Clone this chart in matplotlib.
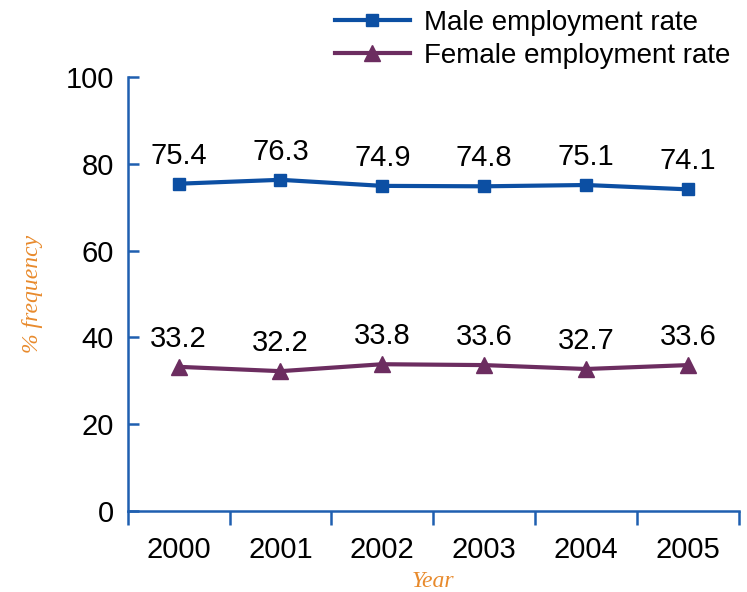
import matplotlib
matplotlib.use("Agg")
import matplotlib.pyplot as plt

plt.rcParams["font.family"] = ["Liberation Sans Narrow", "Liberation Sans", "DejaVu Sans"]

years = ["2000", "2001", "2002", "2003", "2004", "2005"]
male = [75.4, 76.3, 74.9, 74.8, 75.1, 74.1]
female = [33.2, 32.2, 33.8, 33.6, 32.7, 33.6]

male_col = "#0c4fa3"
female_col = "#6c2d60"
axis_col = "#1f5fb0"
label_col = "#e88a2c"
fs = 21

fig = plt.figure(figsize=(7.47, 5.92), dpi=100)
ax = fig.add_axes([0.171, 0.137, 0.818, 0.733])

x = list(range(len(years)))
ax.plot(x, male, color=male_col, lw=3, marker="s", ms=8, label="Male employment rate")
ax.plot(x, female, color=female_col, lw=3, marker="^", ms=11, label="Female employment rate")

for xi, v in zip(x, male):
    ax.annotate(f"{v}", (xi, v), xytext=(0, 10), textcoords="offset points",
                ha="center", va="bottom", fontsize=fs)
for xi, v in zip(x, female):
    ax.annotate(f"{v}", (xi, v), xytext=(0, 10), textcoords="offset points",
                ha="center", va="bottom", fontsize=fs)

ax.set_xlim(-0.5, len(years) - 0.5)
ax.set_ylim(0, 100)
ax.set_yticks([0, 20, 40, 60, 80, 100])

# boundaries get the tick marks, centres get the labels
ax.set_xticks([i - 0.5 for i in range(len(years) + 1)])
ax.set_xticklabels([])
ax.set_xticks(x, minor=True)
ax.set_xticklabels(years, minor=True)
ax.tick_params(axis="x", which="major", direction="out", length=10, width=1.8, color=axis_col)
ax.tick_params(axis="x", which="minor", length=0, pad=18, labelsize=fs)
ax.tick_params(axis="y", direction="in", length=8, width=1.8, color=axis_col, labelsize=fs, pad=10)

for s in ["top", "right"]:
    ax.spines[s].set_visible(False)
for s in ["left", "bottom"]:
    ax.spines[s].set_color(axis_col)
    ax.spines[s].set_linewidth(1.8)

ax.set_xlabel("Year", family="Liberation Serif", style="italic", color=label_col, fontsize=17, labelpad=5)
ax.set_ylabel("% frequency", family="Liberation Serif", style="italic", color=label_col, fontsize=17, labelpad=16)

ax.legend(loc="upper left", bbox_to_anchor=(0.339, 1.155), frameon=False, fontsize=20,
          handlelength=2.7, handletextpad=0.5, labelspacing=0.25, borderaxespad=0, borderpad=0)

fig.savefig("out.png", dpi=100)
